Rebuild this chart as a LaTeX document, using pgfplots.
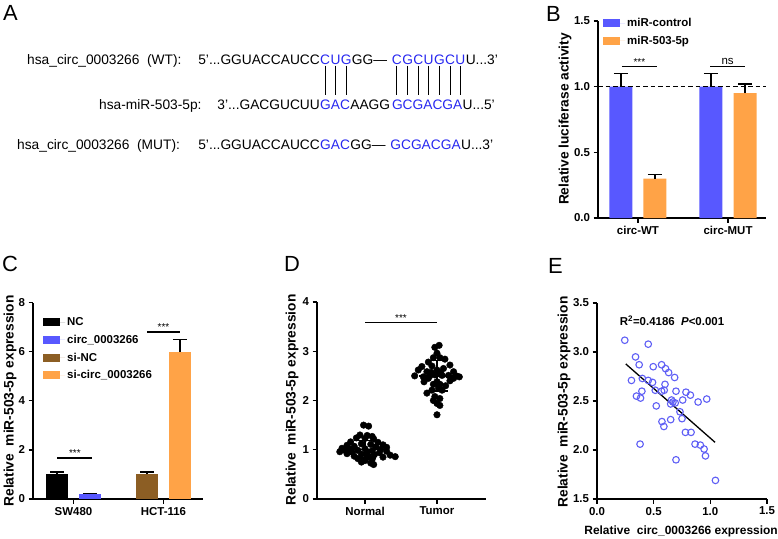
\documentclass[border=0pt]{standalone}
\usepackage{pgfplots}
\pgfplotsset{compat=1.18}
\usepackage{fontspec}
\setmainfont{Liberation Sans}
\definecolor{cblue}{RGB}{88,88,255}
\definecolor{corange}{RGB}{255,163,71}
\definecolor{cbrown}{RGB}{140,94,36}
\definecolor{seqblue}{RGB}{40,40,240}
\definecolor{ptblue}{RGB}{95,95,245}
\newcommand{\fs}[1]{\fontsize{#1}{#1}\selectfont}
\newcommand{\sq}{\fs{13.8}}
\pgfplotsset{
  panel/.style={
    scale only axis,
    axis lines=left,
    axis line style={line width=1.3bp,-},
    tick style={line width=1.3bp, black},
    tick align=outside,
    major tick length=4.5bp,
    tick label style={font=\fs{11.5}\bfseries},
    /pgf/number format/assume math mode=true,
    clip=false,
    legend cell align=left,
    legend style={draw=none, fill=none, inner sep=0pt, font=\fs{11.5}\bfseries, row sep=4bp, anchor=north west},
    legend image code/.code={\fill[##1] (0bp,-4bp) rectangle (17bp,4bp); \path (0bp,0bp) -- (22bp,0bp);},
  },
  bars/.style={ybar, bar width=#1, bar shift=0pt, draw=none, forget plot,
    /pgfplots/error bars/y dir=plus, /pgfplots/error bars/y explicit,
    /pgfplots/error bars/error mark=|,
    /pgfplots/error bars/error bar style={line width=1.3bp, black},
    /pgfplots/error bars/error mark options={line width=1.3bp, mark size=7bp, black}},
}
\begin{document}
\begin{tikzpicture}
\path[use as bounding box] (0,0) rectangle (778bp,-539bp);

\begin{scope}[x=1bp,y=-1bp]
\node[anchor=base west, inner sep=0] at (3,20) {\fs{22}A};
\node[anchor=base west, inner sep=0] at (546,21) {\fs{22}B};
\node[anchor=base west, inner sep=0] at (2,271) {\fs{22}C};
\node[anchor=base west, inner sep=0] at (284,271) {\fs{22}D};
\node[anchor=base west, inner sep=0] at (548,273) {\fs{22}E};

% line 1
\node[anchor=base west, inner sep=0] at (27,64) {\sq hsa\_circ\_0003266\ \ (WT):};
\node[anchor=base east, inner sep=0] at (320,64) {\sq 5’...GGUACCAUCC};
\node[anchor=base west, inner sep=0] (a1) at (320,64) {\sq\color{seqblue}C};
\node[anchor=base west, inner sep=0] (a2) at (a1.base east) {\sq\color{seqblue}U};
\node[anchor=base west, inner sep=0] (a3) at (a2.base east) {\sq\color{seqblue}G};
\node[anchor=base west, inner sep=0] (am) at (a3.base east) {\sq GG—\kern4.5bp};
\node[anchor=base west, inner sep=0] (b1) at (am.base east) {\sq\color{seqblue}C};
\node[anchor=base west, inner sep=0] (b2) at (b1.base east) {\sq\color{seqblue}G};
\node[anchor=base west, inner sep=0] (b3) at (b2.base east) {\sq\color{seqblue}C};
\node[anchor=base west, inner sep=0] (b4) at (b3.base east) {\sq\color{seqblue}U};
\node[anchor=base west, inner sep=0] (b5) at (b4.base east) {\sq\color{seqblue}G};
\node[anchor=base west, inner sep=0] (b6) at (b5.base east) {\sq\color{seqblue}C};
\node[anchor=base west, inner sep=0] (b7) at (b6.base east) {\sq\color{seqblue}U};
\node[anchor=base west, inner sep=0] at (b7.base east) {\sq U...3’};
\foreach \n in {a1,a2,a3,b1,b2,b3,b4,b5,b6,b7}{
  \draw[line width=0.9bp] (\n.base) ++(0,1.5) -- ++(0,29.5);
}
% line 2
\node[anchor=base west, inner sep=0] at (99,109) {\sq hsa-miR-503-5p:};
\node[anchor=base east, inner sep=0] at (320,109) {\sq 3’...GACGUCUU};
\node[anchor=base west, inner sep=0] (c1) at (320,109) {\sq\color{seqblue}GAC};
\node[anchor=base west, inner sep=0] (c2) at (c1.base east) {\sq AAGG\kern1.5bp};
\node[anchor=base west, inner sep=0] (c3) at (c2.base east) {\sq\color{seqblue}GCGACGA};
\node[anchor=base west, inner sep=0] at (c3.base east) {\sq U...5’};
% line 3
\node[anchor=base west, inner sep=0] at (17,149) {\sq hsa\_circ\_0003266\ \ (MUT):};
\node[anchor=base east, inner sep=0] at (320,149) {\sq 5’...GGUACCAUCC};
\node[anchor=base west, inner sep=0] (d1) at (320,149) {\sq\color{seqblue}GAC};
\node[anchor=base west, inner sep=0] (d2) at (d1.base east) {\sq GG—\kern4.5bp};
\node[anchor=base west, inner sep=0] (d3) at (d2.base east) {\sq\color{seqblue}GCGACGA};
\node[anchor=base west, inner sep=0] at (d3.base east) {\sq U...3’};

% axis labels
\node[rotate=90, font=\fs{13.8}\bfseries] at (565,119) {Relative luciferase activity};
\node[rotate=90, font=\fs{13.8}\bfseries] at (10,401) {Relative\ \ miR-503-5p expression};
\node[rotate=90, font=\fs{13.8}\bfseries] at (292,400) {Relative\ \ miR-503-5p expression};
\node[rotate=90, font=\fs{13.8}\bfseries] at (564,402) {Relative\ \ miR-503-5p expression};
\node[anchor=east, inner sep=0, font=\fs{12}\bfseries] at (778,531) {Relative\ \ circ\_0003266 expression};
\end{scope}

% ---------------- Panel B ----------------
\begin{axis}[panel, at={(598bp,-218bp)}, anchor=south west, width=168bp, height=197bp,
  xmin=-0.444, xmax=1.422, ymin=0, ymax=1.5,
  xtick={0,1}, xticklabels={circ-WT,circ-MUT},
  ytick={0,0.5,1,1.5},
  yticklabel style={/pgf/number format/.cd, fixed, fixed zerofill, precision=1},
  legend style={at={(rel axis cs:0.03,1.025)}}]
\addlegendimage{fill=cblue, draw=none}
\addlegendentry{miR-control}
\addlegendimage{fill=corange, draw=none}
\addlegendentry{miR-503-5p}
\addplot[fill=cblue, bars=23bp] coordinates {(-0.189,1.0) +- (0,0.10) (0.811,1.0) +- (0,0.10)};
\addplot[fill=corange, bars=23bp] coordinates {(0.189,0.30) +- (0,0.03) (1.189,0.95) +- (0,0.07)};
\draw[line width=1.3bp, dash pattern=on 4.5bp off 3bp] (axis cs:-0.444,1) -- (axis cs:1.422,1);
\draw[line width=1.2bp] (axis cs:-0.18,1.155) -- (axis cs:0.21,1.155);
\node[anchor=south, font=\fs{10}, inner sep=1bp] at (axis cs:0.015,1.155) {***};
\draw[line width=1.2bp] (axis cs:0.80,1.155) -- (axis cs:1.19,1.155);
\node[anchor=south, font=\fs{11.5}, inner sep=2bp] at (axis cs:0.995,1.155) {ns};
\end{axis}

% ---------------- Panel C ----------------
\begin{axis}[panel, at={(33bp,-499bp)}, anchor=south west, width=170bp, height=196.5bp,
  xmin=-0.45, xmax=1.439, ymin=0, ymax=8,
  xtick={0,1}, xticklabels={SW480,HCT-116},
  ytick={0,2,4,6,8},
  legend style={at={(rel axis cs:0.059,0.935)}}]
\addlegendimage{fill=black, draw=none}
\addlegendentry{NC}
\addlegendimage{fill=cblue, draw=none}
\addlegendentry{circ\_0003266}
\addlegendimage{fill=cbrown, draw=none}
\addlegendentry{si-NC}
\addlegendimage{fill=corange, draw=none}
\addlegendentry{si-circ\_0003266}
\addplot[fill=black, bars=22bp] coordinates {(-0.183,1.0) +- (0,0.10)};
\addplot[fill=cblue, bars=22bp] coordinates {(0.183,0.20) +- (0,0.03)};
\addplot[fill=cbrown, bars=22bp] coordinates {(0.817,1.0) +- (0,0.10)};
\addplot[fill=corange, bars=22bp] coordinates {(1.183,6.0) +- (0,0.50)};
\draw[line width=1.2bp] (axis cs:-0.18,1.67) -- (axis cs:0.21,1.67);
\node[anchor=south, font=\fs{10}, inner sep=1bp] at (axis cs:0.015,1.67) {***};
\draw[line width=1.2bp] (axis cs:0.82,6.80) -- (axis cs:1.18,6.80);
\node[anchor=south, font=\fs{10}, inner sep=1bp] at (axis cs:1.0,6.80) {***};
\end{axis}

% ---------------- Panel D ----------------
\begin{axis}[panel, at={(317bp,-499bp)}, anchor=south west, width=169bp, height=197bp,
  xmin=-0.667, xmax=1.681, ymin=0, ymax=4,
  xtick={0,1}, xticklabels={Normal,Tumor},
  ytick={0,1,2,3,4}]
\addplot[only marks, mark=*, mark size=3.3bp, black] coordinates {
(-0.02,1.50) (0.05,1.48)
(-0.07,1.30) (0.03,1.29) (0.10,1.27)
(-0.12,1.24) (0.00,1.23) (0.12,1.22)
(-0.20,1.16) (0.18,1.15)
(-0.05,1.12) (0.08,1.11) (0.25,1.10) (-0.25,1.09)
(-0.15,1.07) (0.15,1.06) (0.30,1.05)
(-0.32,1.03) (-0.22,1.02) (0.00,1.02) (0.22,1.01)
(-0.28,0.99) (-0.10,0.99) (0.10,0.98) (0.30,0.97)
(-0.35,0.96) (-0.18,0.95) (0.03,0.95) (0.20,0.94)
(-0.25,0.92) (-0.05,0.91) (0.13,0.90) (0.35,0.89)
(-0.15,0.87) (0.05,0.86) (0.25,0.85) (0.42,0.86)
(-0.10,0.82) (0.10,0.81)
(0.00,0.78) (-0.05,0.75) (0.08,0.73) (0.12,0.70)
};
\addplot[only marks, mark=*, mark size=3.3bp, black] coordinates {
(1.03,3.12) (0.97,3.08) (1.00,2.96)
(0.95,2.87) (1.04,2.87) (1.11,2.84)
(0.88,2.78) (1.18,2.72) (0.79,2.69) (0.93,2.70)
(1.09,2.65) (0.74,2.62) (1.00,2.62)
(0.86,2.585) (1.23,2.585) (1.05,2.56) (0.92,2.57)
(0.69,2.50) (0.81,2.48) (0.90,2.50) (0.97,2.52) (1.07,2.51) (1.16,2.51) (1.27,2.50) (1.31,2.48)
(0.88,2.45) (1.23,2.45)
(1.18,2.40) (0.82,2.38) (1.00,2.38)
(0.95,2.33) (1.04,2.33) (1.12,2.30)
(1.02,2.25) (0.93,2.21) (1.07,2.21) (0.86,2.15)
(0.97,2.08) (1.04,2.04) (0.95,2.00)
(1.00,1.94) (1.04,1.90) (1.00,1.71)
};
\addplot[only marks, mark=-, mark size=18bp, mark options={line width=1.5bp}, black,
  error bars/.cd, y dir=both, y explicit, error mark=|,
  error bar style={line width=1.5bp, black},
  error mark options={line width=1.5bp, mark size=11bp, black}]
  coordinates {(0,1.01) +- (0,0.18) (1,2.50) +- (0,0.31)};
\draw[line width=1.2bp] (axis cs:0,3.59) -- (axis cs:1,3.59);
\node[anchor=south, font=\fs{10}, inner sep=1bp] at (axis cs:0.5,3.59) {***};
\end{axis}

% ---------------- Panel E ----------------
\begin{axis}[panel, at={(597bp,-499bp)}, anchor=south west, width=170bp, height=196bp,
  xmin=0, xmax=1.5, ymin=1.5, ymax=3.5,
  xtick={0,0.5,1,1.5}, ytick={1.5,2,2.5,3,3.5},
  xticklabel style={/pgf/number format/.cd, fixed, fixed zerofill, precision=1},
  yticklabel style={/pgf/number format/.cd, fixed, fixed zerofill, precision=1}]
\addplot[only marks, mark=o, mark size=3.3bp, mark options={line width=1.1bp, draw=ptblue}] coordinates {
(0.245,3.12) (0.452,3.08) (0.34,2.95) (0.372,2.87) (0.496,2.85) (0.57,2.87) (0.605,2.83) (0.632,2.79)
(0.304,2.71) (0.40,2.73) (0.452,2.71) (0.49,2.69) (0.685,2.74) (0.60,2.67)
(0.396,2.60) (0.514,2.61) (0.57,2.60) (0.593,2.61) (0.348,2.55) (0.384,2.53)
(0.697,2.60) (0.785,2.59) (0.824,2.56) (0.658,2.51) (0.756,2.51) (0.67,2.49) (0.69,2.48) (0.65,2.47)
(0.892,2.49) (0.968,2.52) (0.523,2.45) (0.732,2.39) (0.75,2.32) (0.65,2.31) (0.573,2.29) (0.59,2.24)
(0.78,2.18) (0.83,2.18) (0.38,2.06) (0.865,2.06) (0.912,2.05) (0.945,2.01) (0.957,1.94) (0.697,1.90)
(1.045,1.69)
};
\addplot[black, line width=1.3bp] coordinates {(0.254,2.878) (1.042,2.078)};
\node[anchor=west, font=\fs{11.5}\bfseries] at (axis cs:0.17,3.32) {R\textsuperscript{2}=0.4186\ \ \textit{P}<0.001};
\end{axis}
\end{tikzpicture}
\end{document}
